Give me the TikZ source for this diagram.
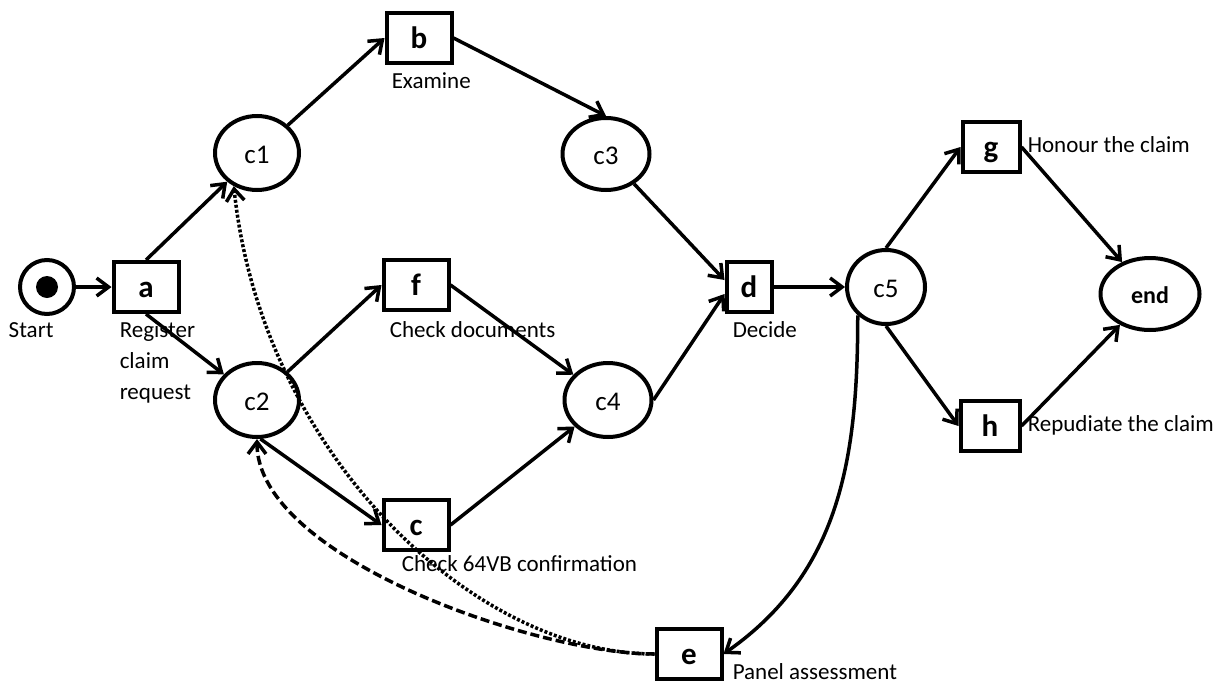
\documentclass[tikz,border=0pt]{standalone}
\usepackage{fontspec}
\setmainfont{Carlito}
\usepackage{tikz}
\usetikzlibrary{arrows.meta}
\usetikzlibrary{shapes.geometric}

\begin{document}
\begin{tikzpicture}[x=1pt, y=-1pt, line width=3.5pt,
	trans/.style={draw, rectangle, line width=4pt, minimum height=50pt, inner sep=0pt, text height=22pt, text depth=2pt, font=\fontsize{31}{31}\selectfont\bfseries},
	place/.style={draw, ellipse, line width=4pt, inner sep=0pt, text height=20pt, text depth=0pt, font=\fontsize{27}{27}\selectfont},
	desc/.style={anchor=base west, inner sep=0pt, font=\fontsize{23}{31}\selectfont},
	arc/.style={-{Straight Barb[length=12pt,width=18pt]}},
	dotline/.style={arc, dash pattern=on 3pt off 2pt},
	dashline/.style={arc, dash pattern=on 9pt off 4pt}]

	\useasboundingbox (0,0) rectangle (1222,688);

	\node[draw, circle, line width=4pt, minimum size=54pt, inner sep=0pt] (start) at (47,287) {};
	\node[circle, fill, minimum size=22pt, inner sep=0pt] (token) at (47,287) {};

	\foreach \name/\x/\y/\w in {a/146/287/65, b/419/38/65, f/416/285/65, c/416/525/65, d/749/287/45, e/689/654/65, g/991/147/57, h/990/426/59} {
		\node[trans, minimum width=\w pt] (\name) at (\x,\y) {\name};
	}
	\foreach \name/\x/\y/\w/\h in {c1/257/153/84/74, c2/257/400/84/74, c3/606/154/87/72, c4/608/400/87/74, c5/886/287/78/74} {
		\node[place, minimum width=\w pt, minimum height=\h pt] (\name) at (\x,\y) {\name};
	}
	\node[place, minimum width=99pt, minimum height=72pt, text height=18pt, font=\fontsize{24}{24}\selectfont\bfseries] (finish) at (1150,294) {end};

	\node[desc] (startlbl) at (7,337) {Start};
	\node[desc, align=left] (albl) at (118,399) {Register\\claim\\request};
	\node[desc] (blbl) at (390,88) {Examine};
	\node[desc] (flbl) at (388,337) {Check documents};
	\node[desc] (clbl) at (400,571) {Check 64VB confirmation};
	\node[desc] (dlbl) at (731,337) {Decide};
	\node[desc] (glbl) at (1026,152) {Honour the claim};
	\node[desc] (hlbl) at (1026,431) {Repudiate the claim};
	\node[desc] (elbl) at (731,679) {Panel assessment};

	\draw[arc] (start) -- (a);
	\draw[arc] (a.north) -- (c1);
	\draw[arc] (a.south) -- (c2);
	\draw[arc] (c1) -- (b.west);
	\draw[arc] (c2) -- (f.west);
	\draw[arc] (c2.-85) -- (c.west);
	\draw[arc] (b.east) -- (c3.north);
	\draw[arc] (f.east) -- (c4);
	\draw[arc] (c.east) -- (c4);
	\draw[arc] (c3) -- ([yshift=7pt]d.west);
	\draw[arc] (c4.east) -- ([yshift=-7pt]d.west);
	\draw[arc] (d) -- (c5);
	\draw[arc] (c5.north) -- (g.west);
	\draw[arc] (c5.south) -- (h.west);
	\draw[arc] (g.east) -- (finish);
	\draw[arc] (h.east) -- (finish);
	\draw[arc] (c5.-135) to[out=-90,in=35] (e.east);
	\draw[dashline] (e.west) to[out=180,in=-90,looseness=0.67] (c2.south);
	\draw[dotline] (e.west) to[out=180,in=-84,out looseness=0.75,in looseness=1.08] (c1.-125);

\end{tikzpicture}
\end{document}
